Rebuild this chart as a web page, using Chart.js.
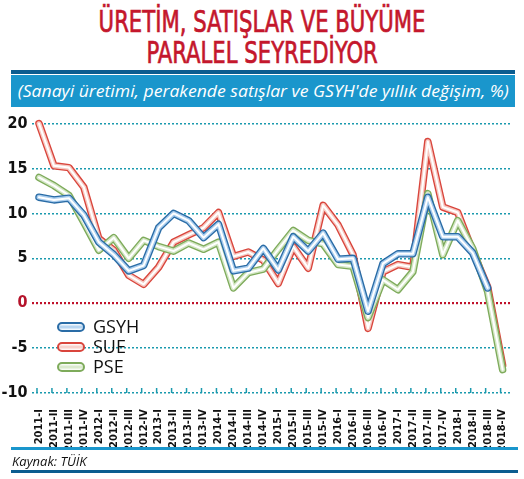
<!DOCTYPE html>
<html>
<head>
<meta charset="utf-8">
<script src="https://cdn.jsdelivr.net/npm/chart.js@4.4.1/dist/chart.umd.min.js"></script>
<style>
  html, body { margin: 0; padding: 0; background: #fff; }
  body { width: 524px; height: 479px; position: relative; overflow: hidden; }
  .title {
    position: absolute; left: 0; width: 524px; text-align: center;
    color: #c4172c; font-family: "Liberation Sans Narrow", "DejaVu Sans Condensed", sans-serif;
    font-size: 31px; line-height: 31px; white-space: nowrap;
    -webkit-text-stroke: 0.7px #c4172c;
  }
  .title span { display: inline-block; transform-origin: center; transform: scaleX(0.76); }
  #t1 { top: 6px; }
  #t2 { top: 37px; }
  #rule1 { position: absolute; left: 11px; width: 504px; top: 70px; height: 4px; background: #0b5d90; }
  #band {
    position: absolute; left: 11px; width: 504px; top: 75px; height: 32px; background: #1a96cc;
    color: #fff; font-family: "Open Sans", sans-serif; font-style: italic; font-size: 17px;
    line-height: 32px; white-space: nowrap; text-align: center;
  }
  #band span { display: inline-block; transform-origin: center; transform: scaleX(1.035); }
  #wrap { position: absolute; left: 0; top: 110px; width: 524px; height: 340px; }
  #rule2 { position: absolute; left: 11px; width: 507px; top: 447px; height: 3px; background: #1a96cc; }
  #source {
    position: absolute; left: 12px; top: 452px; font-family: "Open Sans", sans-serif;
    font-style: italic; font-size: 13px; color: #111;
  }
  #rule3 { position: absolute; left: 11px; width: 507px; top: 470px; height: 3px; background: #0b5d90; }
  #legend { position: absolute; left: 57px; top: 316px; font-family: "Open Sans", sans-serif; font-size: 18px; color: #111; }
  #legend div { height: 20px; line-height: 20px; white-space: nowrap; }
  #legend i {
    display: inline-block; width: 24px; height: 6px; border-radius: 6px; border: 2.5px solid;
    vertical-align: middle; margin-right: 8px; margin-top: -3px;
  }
</style>
</head>
<body>
<div class="title" id="t1"><span>ÜRETİM, SATIŞLAR VE BÜYÜME</span></div>
<div class="title" id="t2"><span>PARALEL SEYREDİYOR</span></div>
<div id="rule1"></div>
<div id="band"><span>(Sanayi üretimi, perakende satışlar ve GSYH'de yıllık değişim, %)</span></div>
<div id="wrap"><canvas id="chart"></canvas></div>
<div id="legend"></div>
<div id="rule2"></div>
<div id="source">Kaynak: TÜİK</div>
<div id="rule3"></div>
<script>
const labels = [
  "2011-I", "2011-II", "2011-III", "2011-IV",
  "2012-I", "2012-II", "2012-III", "2012-IV",
  "2013-I", "2013-II", "2013-III", "2013-IV",
  "2014-I", "2014-II", "2014-III", "2014-IV",
  "2015-I", "2015-II", "2015-III", "2015-IV",
  "2016-I", "2016-II", "2016-III", "2016-IV",
  "2017-I", "2017-II", "2017-III", "2017-IV",
  "2018-I", "2018-II", "2018-III", "2018-IV"
];

// GSYH (GDP), SUE (industrial production), PSE (retail sales)
const gsyh = [11.8, 11.5, 11.7, 9.8, 6.8, 5.4, 3.6, 4.2, 8.4, 10.0, 9.2, 7.3,
              8.8, 3.6, 3.9, 6.1, 3.7, 7.4, 5.8, 7.8, 4.9, 5.0, -0.9, 4.4,
              5.5, 5.5, 11.8, 7.4, 7.4, 5.6, 1.7, null];
const sue  = [20.0, 15.3, 15.1, 12.9, 7.2, 5.9, 3.1, 2.1, 4.0, 6.8, 7.6, 8.4,
              10.1, 5.2, 5.7, 4.8, 2.2, 6.3, 3.9, 10.9, 8.7, 5.4, -2.8, 3.5,
              4.3, 4.0, 18.0, 10.7, 10.1, 5.8, 1.8, -6.9];
const pse  = [14.0, 13.1, 12.0, 9.0, 5.9, 7.3, 5.0, 7.0, 6.3, 5.8, 6.7, 6.0,
              6.8, 1.7, 3.4, 3.8, 6.0, 8.1, 7.0, 6.6, 4.3, 4.1, -1.6, 2.6,
              1.5, 3.5, 12.2, 5.4, 9.2, 6.1, 1.3, -7.4];

const yTicks = [-10, -5, 0, 5, 10, 15, 20];

const series = [
  { name: "GSYH", data: gsyh, edge: "#2a6ca6", mid: "#a9cdee", order: 0 },
  { name: "SUE",  data: sue,  edge: "#d9453c", mid: "#f6c9c2", order: 20 },
  { name: "PSE",  data: pse,  edge: "#7eab5b", mid: "#d3e6c4", order: 10 }
];

const narrow = "'Liberation Sans Narrow', 'DejaVu Sans Condensed', sans-serif";
const teal = "#1b9aae";

function layers(s){
  return [
    { w: 7.5, c: s.edge, o: s.order + 3 },
    { w: 4.8, c: s.mid, o: s.order + 2 },
    { w: 2, c: "#ffffff", o: s.order + 1 }
  ].map(l => ({
    label: s.name,
    data: s.data,
    borderColor: l.c,
    borderWidth: l.w,
    order: l.o,
    pointRadius: 0,
    tension: 0,
    borderJoinStyle: "round",
    borderCapStyle: "round",
    fill: false,
    clip: false
  }));
}

const datasets = [];
series.forEach(s => datasets.push(...layers(s)));

// little tick marks on the bottom dotted axis
const axisTicks = {
  id: "axisTicks",
  afterDraw(chart){
    const x = chart.scales.x;
    const y = chart.scales.y;
    const base = y.getPixelForValue(-10);
    const c = chart.ctx;
    c.save();
    c.strokeStyle = teal;
    c.lineWidth = 1.5;
    labels.forEach((l, i) => {
      const px = x.getPixelForValue(i) - 2;
      c.beginPath();
      c.moveTo(px, base);
      c.lineTo(px, base - 5);
      c.stroke();
    });
    c.restore();
  }
};

new Chart(document.getElementById("chart"), {
  type: "line",
  data: { labels: labels, datasets: datasets },
  options: {
    responsive: true,
    maintainAspectRatio: false,
    animation: false,
    layout: { padding: { top: 9, right: 12.5, left: 0, bottom: 0 } },
    plugins: {
      legend: { display: false },
      tooltip: { enabled: false }
    },
    scales: {
      x: {
        offset: true,
        grid: { display: false },
        border: { display: false },
        afterFit(s){ s.height = 57; },
        ticks: {
          minRotation: 90,
          maxRotation: 90,
          autoSkip: false,
          padding: 8,
          color: "#111",
          font: { family: narrow, weight: "bold", size: 11 }
        }
      },
      y: {
        min: -10,
        max: 20,
        afterBuildTicks(s){ s.ticks = yTicks.map(v => ({ value: v })); },
        afterFit(s){ s.width = 31.5; },
        grid: {
          color: c => c.tick && c.tick.value === 0 ? "#c0112b" : teal,
          lineWidth: c => c.tick && c.tick.value === 0 ? 2.2 : 1.5,
          drawTicks: false
        },
        border: { display: false, dash: [2, 2] },
        ticks: {
          padding: 4,
          color: c => c.tick && c.tick.value === 0 ? "#b5132b" : "#111",
          font: { family: narrow, weight: "bold", size: 16 }
        }
      }
    }
  },
  plugins: [axisTicks]
});

// legend
const legend = document.getElementById("legend");
series.forEach(s => {
  const row = document.createElement("div");
  const sw = document.createElement("i");
  sw.style.borderColor = s.edge;
  sw.style.background = "linear-gradient(#fff, " + s.mid + ", #fff)";
  row.appendChild(sw);
  row.appendChild(document.createTextNode(s.name));
  legend.appendChild(row);
});
</script>
</body>
</html>
